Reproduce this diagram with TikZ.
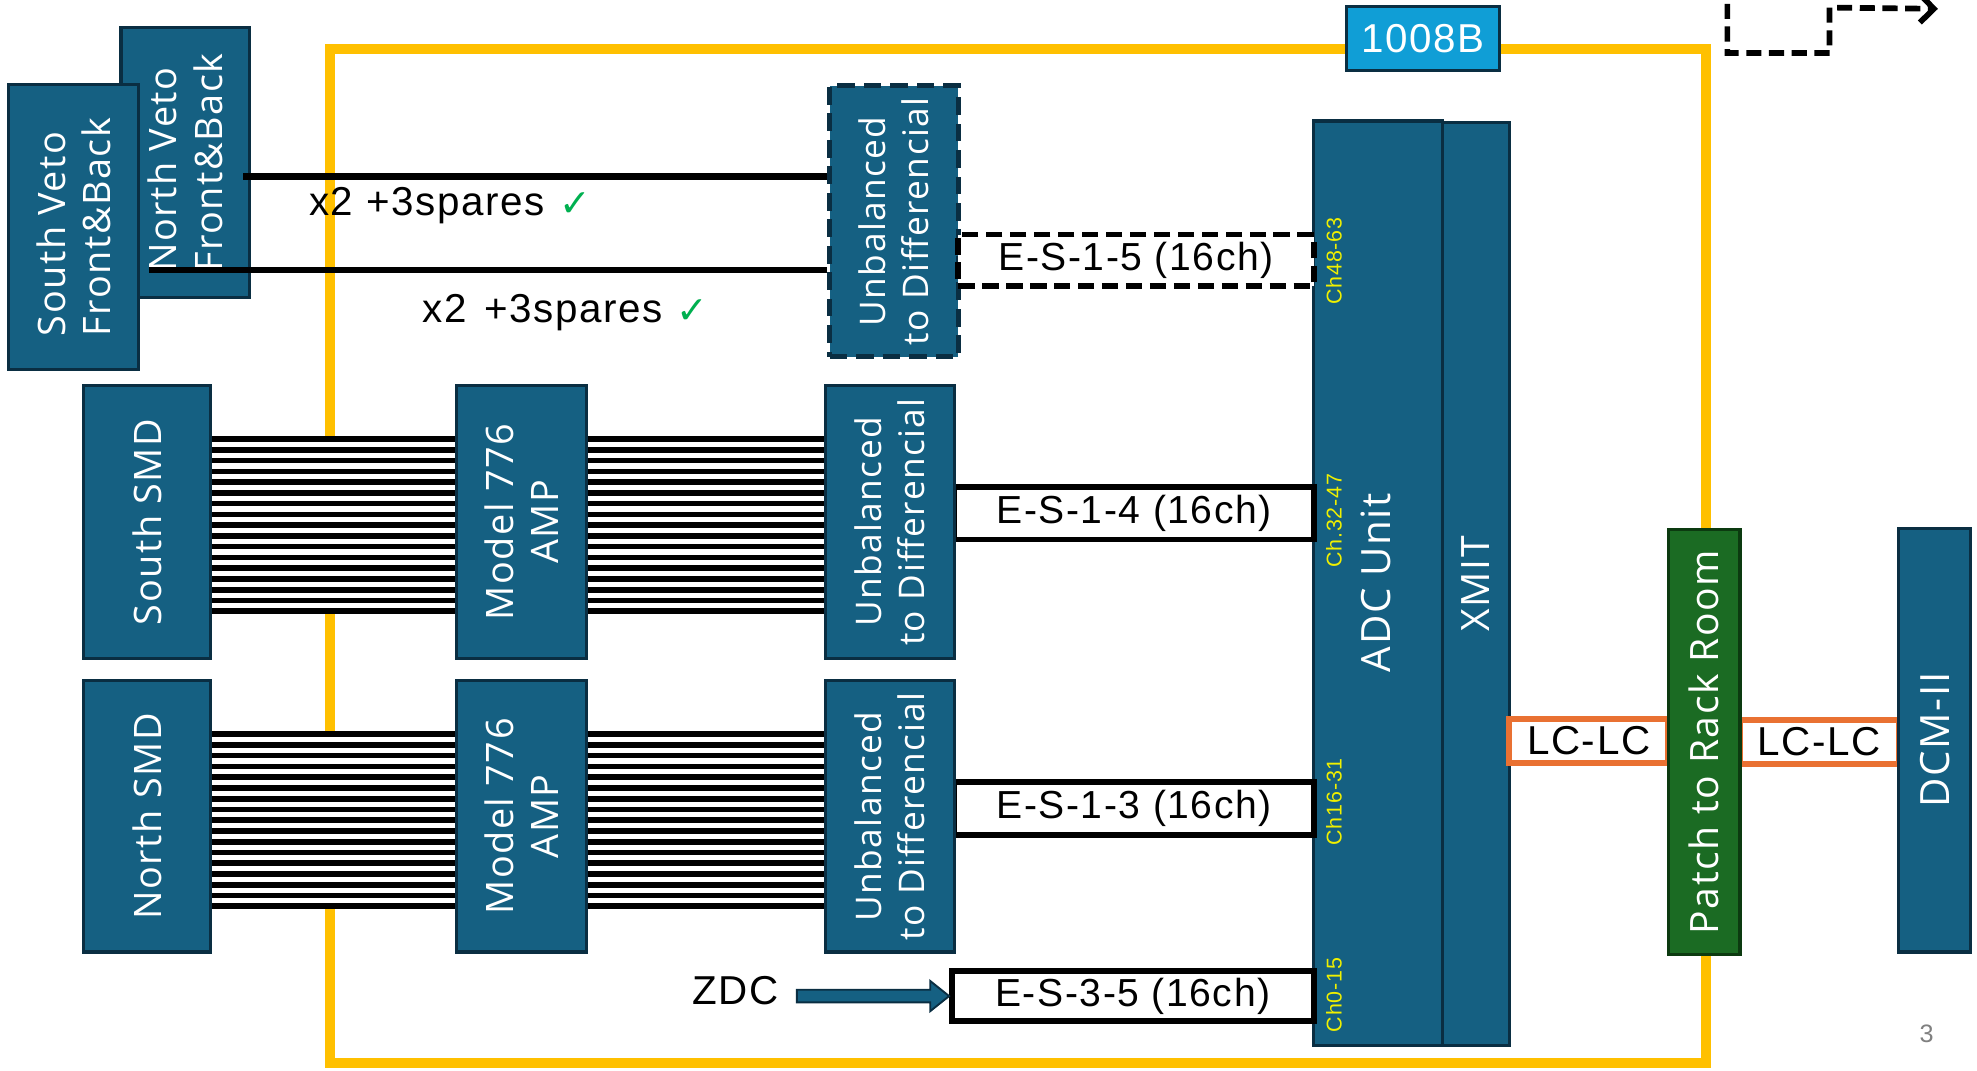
\documentclass[tikz,border=0pt]{standalone}
\usepackage{fontspec}
\setmainfont{Open Sans}[LetterSpace=4]
\newfontfamily\labfont{Liberation Sans}[LetterSpace=4]
\newfontfamily\ckfont{DejaVu Sans}
\usetikzlibrary{arrows.meta,calc}
\definecolor{boxfill}{HTML}{156082}
\definecolor{boxline}{HTML}{0A2E42}
\definecolor{frame}{HTML}{FFC000}
\definecolor{roomfill}{HTML}{109ED6}
\definecolor{greenfill}{HTML}{1B6B23}
\definecolor{greenline}{HTML}{0C3A10}
\definecolor{lcorange}{HTML}{E97132}
\definecolor{chyellow}{HTML}{F0F000}
\definecolor{okgreen}{HTML}{00B050}
\begin{document}
\begin{tikzpicture}[x=1pt,y=-1pt,
  blk/.style 2 args={draw=boxline, fill=boxfill, line width=2.5pt, inner sep=0pt, minimum width=#1, minimum height=#2},
  vtext/.style={rotate=90, text=white, align=center, inner sep=0pt, font=\fontsize{30}{36}\selectfont},
  lbl/.style={inner sep=0pt, font=\labfont\fontsize{32}{32}\selectfont},
  cable/.style 2 args={draw=black, fill=white, line width=4.5pt, inner sep=0pt, minimum width=#1, minimum height=#2, font=\labfont\fontsize{31}{31}\selectfont},
  lcbox/.style={draw=lcorange, fill=white, line width=4.5pt, inner sep=0pt, minimum width=126pt, minimum height=35pt, font=\labfont\fontsize{32}{32}\selectfont},
  chl/.style={rotate=90, text=chyellow, inner sep=0pt, font=\labfont\fontsize{17}{17}\selectfont},
  wire/.style={line width=5pt},
  stripe/.style={line width=4.5pt},
  okmark/.style={text=okgreen, inner sep=0pt, font=\ckfont\fontsize{30}{30}\selectfont}
]
\useasboundingbox (0,0) rectangle (1568,849);

% room frame
\node[draw=frame, line width=8pt, minimum width=1091pt, minimum height=804pt, inner sep=0pt] (room) at (807.5,441) {};

% top right dashed arrow
\coordinate (t0) at (1370,3);
\coordinate (t1) at (1370,42);
\coordinate (t2) at (1451,42);
\coordinate (t3) at (1451,6);
\coordinate (t4) at (1537,7);
\draw[line width=4.5pt, dash pattern=on 12pt off 6pt, -{Straight Barb[length=11pt,width=22pt]}] (t0) -- (t1) -- (t2) -- (t3) -- (t4);

% veto boxes
\node[blk={102pt}{214pt}] (nveto) at (147,129) {};
\node[vtext, align=left] (nveto-t) at (nveto) {North Veto\\Front\&Back};
\node[blk={103pt}{226pt}] (sveto) at (58.5,180) {};
\node[vtext, align=left] (sveto-t) at (sveto) {South Veto\\Front\&Back};

% SMD and amp boxes
\node[blk={101pt}{216pt}] (ssmd) at (116.5,414) {};
\node[blk={103pt}{216pt}] (samp) at (413.5,414) {};
\node[blk={101pt}{215pt}] (nsmd) at (116.5,647.5) {};
\node[blk={103pt}{215pt}] (namp) at (413.5,647.5) {};

% ADC and XMIT
\node[blk={102pt}{733pt}] (adc) at (1093,462.5) {};
\node[blk={53pt}{732pt}] (xmit) at (1170.5,463) {};

% cables to ADC
\node[cable={285pt}{42pt}] (c14) at (899.5,407) {E-S-1-4 (16ch)};
\node[cable={285pt}{42pt}] (c13) at (899.5,641) {E-S-1-3 (16ch)};
\node[cable={287pt}{40pt}] (c35) at (898.5,790) {E-S-3-5 (16ch)};

% unbalanced boxes
\node[blk={102pt}{216pt}] (sub) at (706,414) {};
\node[blk={102pt}{215pt}] (nub) at (706,647.5) {};
\node[blk={102pt}{215pt}, line width=4pt, dash pattern=on 14pt off 7pt] (uveto) at (709,175.5) {};
\node[cable={282pt}{41pt}, dash pattern=on 13pt off 6pt] (c15) at (901,206.5) {E-S-1-5 (16ch)};

% ribbons
\foreach \a/\b/\yy in {ssmd/samp/346, samp/sub/346, nsmd/namp/580, namp/nub/580} {
  \fill[white] (\a.east |- 0,\yy) rectangle (\b.west |- 0,{\yy+141});
  \foreach \k in {0,...,16} {
    \draw[stripe] (\a.east |- 0,{\yy+2.25+\k*8.53}) -- (\b.west |- 0,{\yy+2.25+\k*8.53});
  }
}

% veto wires
\coordinate (nvo) at (193,140);
\coordinate (svo) at (118,214);
\draw[wire] (nvo) -- (nvo -| uveto.west);
\draw[wire] (svo) -- (svo -| uveto.west);
\node[lbl, anchor=west] (sp1) at (245,163) {x2 +3spares};
\node[okmark] (ok1) at (456,162) {✓};
\node[lbl, anchor=west] (sp2) at (335,248) {x2\hspace{14pt}+3spares};
\node[okmark] (ok2) at (549,247) {✓};

% box texts
\node[vtext] (ssmd-t) at (ssmd) {South SMD};
\node[vtext] (nsmd-t) at (nsmd) {North SMD};
\node[vtext] (samp-t) at (samp) {Model 776\\AMP};
\node[vtext] (namp-t) at (namp) {Model 776\\AMP};
\node[vtext, font=\fontsize{28}{34}\selectfont] (sub-t) at (sub) {Unbalanced\\to Differencial};
\node[vtext, font=\fontsize{28}{34}\selectfont] (nub-t) at (nub) {Unbalanced\\to Differencial};
\node[vtext, font=\fontsize{28}{34}\selectfont] (uveto-t) at (uveto) {Unbalanced\\to Differencial};
\node[vtext, font=\fontsize{32}{36}\selectfont] (adc-t) at (1091,462) {ADC Unit};
\node[vtext, font=\fontsize{31}{36}\selectfont] (xmit-t) at (xmit) {XMIT};

% channel labels
\node[chl] (ch4) at (1058,207) {Ch48-63};
\node[chl] (ch3) at (1058,413) {Ch.32-47};
\node[chl] (ch2) at (1058,636) {Ch16-31};
\node[chl] (ch1) at (1058,789) {Ch0-15};

% ZDC
\node[lbl] (zdc) at (583,786) {ZDC};
\coordinate (za) at (c35.west -| 632,0);
\coordinate (zb) at (c35.west);
\filldraw[fill=boxfill, draw=boxline, line width=1.5pt]
  ($(za)+(0,-5)$) -- ($(zb)+(-15,-5)$) -- ($(zb)+(-15,-12)$) -- (zb) --
  ($(zb)+(-15,12)$) -- ($(zb)+(-15,5)$) -- ($(za)+(0,5)$) -- cycle;

% fibre links
\node[lcbox] (lc1) at (1260,587.5) {LC-LC};
\node[lcbox] (lc2) at (1443,588.5) {LC-LC};
\node[draw=greenline, fill=greenfill, line width=2.5pt, inner sep=0pt, minimum width=57pt, minimum height=337pt] (patch) at (1351.5,588.5) {};
\node[vtext, font=\fontsize{31}{36}\selectfont] (patch-t) at (patch) {Patch to Rack Room};
\node[blk={57pt}{336pt}] (dcm) at (1534.5,587) {};
\node[vtext, font=\fontsize{32}{36}\selectfont] (dcm-t) at (dcm) {DCM-II};

% room label
\node[draw=boxline, fill=roomfill, line width=2.5pt, inner sep=0pt, minimum width=121pt, minimum height=51pt, text=white, font=\labfont\fontsize{32}{32}\selectfont] (roomlbl) at (1128.5,30.5) {1008B};

% page number
\node[text=gray, inner sep=0pt, font=\labfont\fontsize{20}{20}\selectfont] (pg) at (1528,820) {3};
\end{tikzpicture}
\end{document}
